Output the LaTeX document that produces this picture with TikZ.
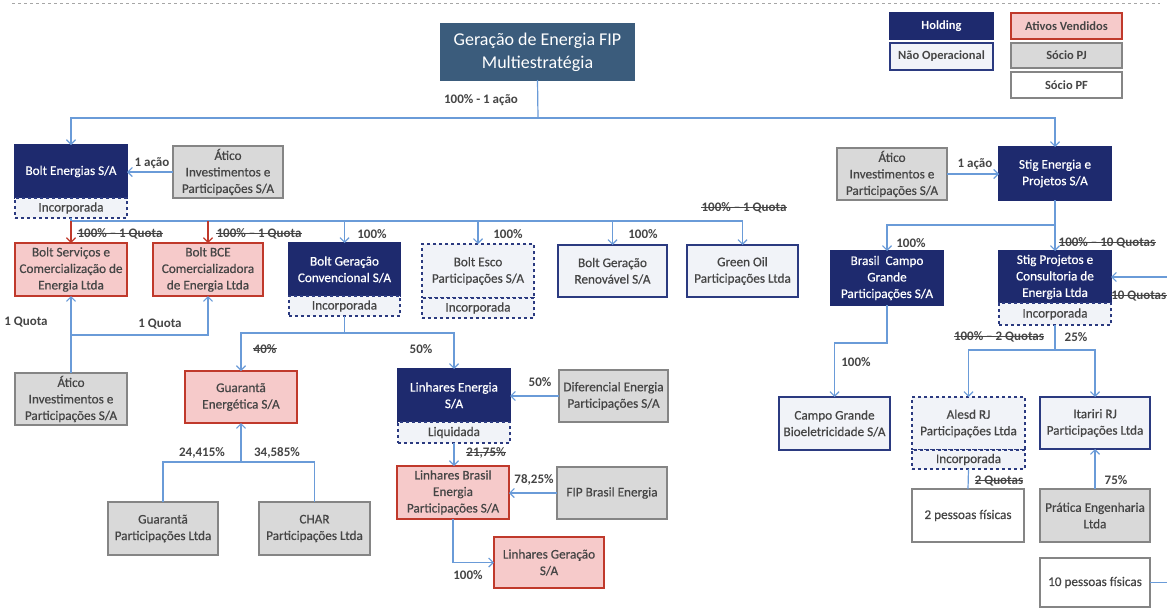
\documentclass[tikz,border=0pt]{standalone}
\usepackage{fontspec}
\setmainfont{Carlito}
\newfontfamily\semib{Carlito}[FakeBold=0.5]
\usetikzlibrary{arrows.meta}
\definecolor{navy}{HTML}{1E2A6E}
\definecolor{navyb}{HTML}{2B3A80}
\definecolor{slate}{HTML}{3B5C7C}
\definecolor{pinkf}{HTML}{F6CACA}
\definecolor{redb}{HTML}{C0392B}
\definecolor{grayf}{HTML}{D9D9D9}
\definecolor{grayb}{HTML}{858585}
\definecolor{lightf}{HTML}{F1F3F8}
\definecolor{connb}{HTML}{6A9BD8}
\definecolor{txt}{HTML}{454545}
\tikzset{
  base/.style={rectangle, outer sep=0pt, inner sep=1pt, align=center, line width=1.1pt, font=\semib\fontsize{13.2}{16.5}\selectfont},
  gen/.style={base, fill=slate, draw=slate, text=white, font=\fontsize{18}{23}\selectfont},
  holding/.style={base, fill=navy, draw=navy, text=white},
  sold/.style={base, fill=pinkf, draw=redb, text=txt},
  pj/.style={base, fill=grayf, draw=grayb, text=txt},
  pf/.style={base, fill=white, draw=grayb, text=txt},
  nonop/.style={base, fill=lightf, draw=navyb, text=txt},
  inc/.style={nonop, dashed},
  leg/.style={font=\bfseries\fontsize{12.5}{15}\selectfont},
  lbl/.style={font=\bfseries\fontsize{13}{15}\selectfont, text=txt, inner sep=0pt},
  strk/.style={lbl, append after command={([yshift=1pt]\tikzlastnode.west) edge[draw=txt, line width=0.9pt] ([yshift=1pt]\tikzlastnode.east)}},
  conn/.style={draw=connb, line width=1.2pt},
  arr/.style={conn, -{Straight Barb[length=4.5pt,width=9pt]}},
  rarr/.style={arr, draw=redb},
}
\newcommand\bx[7]{%
  \pgfmathsetmacro\bxcx{(#3+#5)/2}%
  \pgfmathsetmacro\bxcy{(#4+#6)/2}%
  \pgfmathsetmacro\bxw{#5-#3}%
  \pgfmathsetmacro\bxh{#6-#4}%
  \node[#2, minimum width=\bxw pt, minimum height=\bxh pt] (#1) at (\bxcx,\bxcy) {#7};%
}
\begin{document}
\begin{tikzpicture}[x=1pt,y=-1pt]
\useasboundingbox (0,0) rectangle (1167,608);
\fill[white] (0,0) rectangle (1167,608);
\draw[gray!70, dashed, line width=0.6pt] (12,3) -- (1160,3);

% top
\bx{ger}{gen}{441}{24}{634}{80}{Geração de Energia FIP\\Multiestratégia}
% legend
\bx{lh}{holding,leg}{890}{13}{993}{39}{Holding}
\bx{lno}{nonop,leg}{890}{43}{993}{70}{Não Operacional}
\bx{lav}{sold,leg}{1011}{13}{1122}{39}{Ativos Vendidos}
\bx{lpj}{pj,leg}{1011}{43}{1122}{68}{Sócio PJ}
\bx{lpf}{pf,leg}{1011}{72}{1122}{98}{Sócio PF}

% row 1
\bx{be}{holding}{15}{145}{127}{198}{Bolt Energias S/A}
\bx{beinc}{inc}{15}{198}{127}{218}{Incorporada}
\bx{atl1}{pj}{173}{146}{283}{198}{Ático\\Investimentos e\\Participações S/A}
\bx{se}{holding}{999}{147}{1111}{200}{Stig Energia e\\Projetos S/A}
\bx{atr}{pj}{837}{148}{947}{200}{Ático\\Investimentos e\\Participações S/A}

% row 2
\bx{bsc}{sold}{15}{243}{127}{296}{Bolt Serviços e\\Comercialização de\\Energia Ltda}
\bx{bce}{sold}{153}{243}{263}{296}{Bolt BCE\\Comercializadora\\de Energia Ltda}
\bx{bgc}{holding}{289}{243}{400}{296}{Bolt Geração\\Convencional S/A}
\bx{bgcinc}{inc}{289}{296}{400}{316}{Incorporada}
\bx{besco}{inc}{422}{244}{534}{298}{Bolt Esco\\Participações S/A}
\bx{bescoinc}{inc}{422}{298}{534}{318}{Incorporada}
\bx{bgr}{nonop}{558}{245}{667}{297}{Bolt Geração\\Renovável S/A}
\bx{gop}{nonop}{687}{245}{798}{297}{Green Oil\\Participações Ltda}
\bx{bcg}{holding}{831}{251}{943}{305}{Brasil\ \ Campo\\Grande\\Participações S/A}
\bx{sp}{holding}{999}{251}{1111}{303}{Stig Projetos e\\Consultoria de\\Energia Ltda}
\bx{spinc}{inc}{999}{303}{1111}{325}{Incorporada}

% row 3
\bx{atl2}{pj}{15}{373}{127}{425}{Ático\\Investimentos e\\Participações S/A}
\bx{ge}{sold}{185}{371}{297}{423}{Guarantã\\Energética S/A}
\bx{le}{holding}{398}{369}{510}{422}{Linhares Energia\\S/A}
\bx{leliq}{inc}{398}{422}{510}{443}{Liquidada}
\bx{dif}{pj}{559}{370}{668}{422}{Diferencial Energia\\Participações S/A}
\bx{cgb}{nonop}{779}{397}{890}{450}{Campo Grande\\Bioeletricidade S/A}
\bx{alesd}{inc}{912}{397}{1025}{450}{Alesd RJ\\Participações Ltda}
\bx{alesdinc}{inc}{912}{450}{1025}{469}{Incorporada}
\bx{ita}{nonop}{1040}{397}{1150}{449}{Itariri RJ\\Participações Ltda}

% row 4
\bx{gp}{pj}{108}{502}{218}{555}{Guarantã\\Participações Ltda}
\bx{char}{pj}{259}{502}{370}{555}{CHAR\\Participações Ltda}
\bx{lb}{sold}{397}{466}{509}{519}{Linhares Brasil\\Energia\\Participações S/A}
\bx{fip}{pj}{557}{467}{667}{519}{FIP Brasil Energia}
\bx{lg}{sold}{494}{537}{604}{588}{Linhares Geração\\S/A}
\bx{pf2}{pf}{912}{489}{1024}{542}{2 pessoas físicas}
\bx{pra}{pj}{1040}{489}{1150}{542}{Prática Engenharia\\Ltda}
\bx{pf10}{pf}{1040}{558}{1150}{607}{10 pessoas físicas}

% labels
\node[lbl] (l1) at (481,100) {100\% - 1 ação};
\node[lbl] (l2) at (152,163) {1 ação};
\node[lbl] (l3) at (975,164) {1 ação};
\node[strk] (l4) at (120,234) {100\% – 1 Quota};
\node[strk] (l5) at (259,234) {100\% – 1 Quota};
\node[lbl] (l6) at (372,234) {100\%};
\node[lbl] (l7) at (508,234) {100\%};
\node[lbl] (l8) at (643,234) {100\%};
\node[strk] (l9) at (744,208) {100\% – 1 Quota};
\node[lbl] (l10) at (911,243) {100\%};
\node[strk] (l11) at (1107,243) {100\% – 10 Quotas};
\node[strk, anchor=east] (l12) at (1166.5,296) {10 Quotas};
\node[lbl] (l13) at (26,322) {1 Quota};
\node[lbl] (l14) at (160,324) {1 Quota};
\node[strk] (l15) at (265,349) {40\%};
\node[lbl] (l16) at (421,349) {50\%};
\node[lbl] (l17) at (540,382) {50\%};
\node[strk] (l18) at (486,453) {21,75\%};
\node[lbl] (l19) at (534,480) {78,25\%};
\node[lbl] (l20) at (468,575) {100\%};
\node[lbl] (l21) at (202,453) {24,415\%};
\node[lbl] (l22) at (277,453) {34,585\%};
\node[lbl] (l23) at (856,362) {100\%};
\node[strk] (l24) at (999,337) {100\% – 2 Quotas};
\node[lbl] (l25) at (1076,337) {25\%};
\node[strk] (l26) at (999,481) {2 Quotas};
\node[lbl] (l27) at (1116,480) {75\%};

% connectors: top
\coordinate (topbus) at (538,118);
\draw[conn] (ger.south) -- (topbus);
\draw[arr] (topbus) -| (be.north);
\draw[arr] (topbus) -| (se.north);
\draw[arr] (atl1.west) -- (atl1.west -| be.east);
\draw[arr] (atr.east) -- (atr.east -| se.west);

% Bolt bus
\coordinate (bbus) at (71,221);
\draw[conn] (beinc.south) -- (bbus) -- (bbus -| gop.north);
\draw[rarr] (bbus) -- (bsc.north);
\draw[rarr] (bbus -| bce.north) -- (bce.north);
\draw[arr] (bbus -| bgc.north) -- (bgc.north);
\draw[arr] (bbus -| besco.north) -- (besco.north);
\draw[arr] (bbus -| bgr.north) -- (bgr.north);
\draw[arr] (bbus -| gop.north) -- (gop.north);

% Atico bottom
\draw[arr] (atl2.north) -- (bsc.south);
\coordinate (qj) at (71,335);
\draw[arr] (qj) -| (bce.south);

% BGC
\coordinate (gj) at (344.5,333);
\draw[conn] (bgcinc.south) -- (gj);
\draw[arr] (gj) -| (ge.north);
\draw[arr] (gj) -| (le.north);

% Guaranta
\coordinate (gpj) at (241,462);
\draw[arr] (gpj) -- (ge.south);
\draw[conn] (gp.north) |- (gpj) -| (char.north);

% Linhares
\draw[arr] (dif.west) -- (dif.west -| le.east);
\draw[arr] (leliq.south) -- (leliq.south |- lb.north);
\draw[arr] (fip.west) -- (fip.west -| lb.east);
\draw[arr] (lb.south) |- (lg.west);

% right side
\coordinate (sbus) at (1055,225);
\draw[conn] (se.south) -- (sbus);
\draw[arr] (sbus) -| (bcg.north);
\draw[arr] (sbus) -- (sp.north);
\coordinate (redge) at (1167,277);
\draw[arr] (redge) -- (sp.east);
\coordinate (cgj) at (887,343);
\draw[arr] (bcg.south) -- (cgj) -| (cgb.north);
\coordinate (spj) at (1055,350);
\draw[conn] (spinc.south) -- (spj);
\draw[arr] (spj) -| (alesd.north);
\draw[arr] (spj) -| (ita.north);
\draw[conn] (alesdinc.south) -- (pf2.north);
\draw[arr] (pra.north) -- (ita.south);
\coordinate (redge2) at (1167,582.5);
\draw[conn] (pf10.east) -- (redge2);
\end{tikzpicture}
\end{document}
